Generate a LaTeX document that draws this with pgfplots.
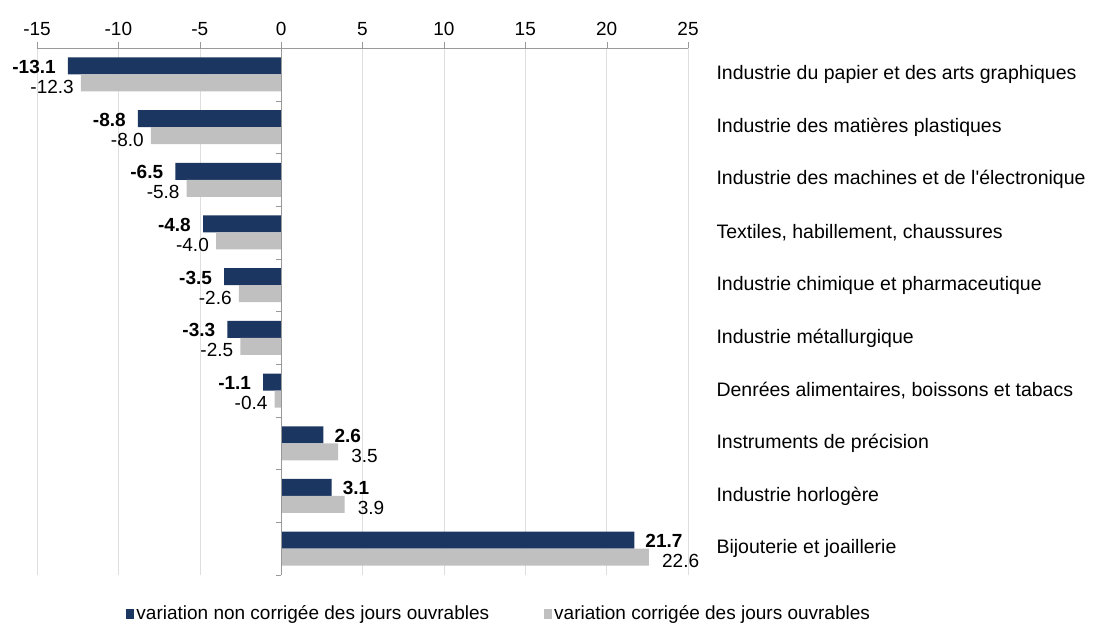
\documentclass[border=0pt]{standalone}
\usepackage{pgfplots}
\pgfplotsset{compat=1.18}
\usepackage{pgfplotstable}
\usepackage{fontspec}
\setmainfont{Liberation Sans}[Ligatures=TeXOff]
\definecolor{navy}{RGB}{27,54,96}
\definecolor{lgray}{RGB}{192,192,192}
\definecolor{gridc}{RGB}{222,222,222}
\pgfplotstableread{
y v
0 -13.1
1 -8.8
2 -6.5
3 -4.8
4 -3.5
5 -3.3
6 -1.1
}\darkneg
\pgfplotstableread{
y v
7 2.6
8 3.1
9 21.7
}\darkpos
\pgfplotstableread{
y v
0 -12.3
1 -8.0
2 -5.8
3 -4.0
4 -2.6
5 -2.5
6 -0.4
}\grayneg
\pgfplotstableread{
y v
7 3.5
8 3.9
9 22.6
}\graypos
\begin{document}
\fontsize{19}{23}\selectfont
\begin{tikzpicture}
\path[use as bounding box] (0,0) rectangle (1097pt,626pt);
\begin{axis}[
  at={(37pt,51pt)}, anchor=south west,
  scale only axis, width=651pt, height=527pt,
  font=\fontsize{19}{23}\selectfont,
  xmin=-15, xmax=25,
  ymin=-0.5, ymax=9.5, y dir=reverse,
  axis x line*=top, axis y line*=right,
  y axis line style={draw=none},
  x axis line style={draw=gray!80, -},
  xtick={-15,-10,...,25},
  xticklabels={-15,-10,-5,0,5,10,15,20,25},
  xtick align=outside,
  xtick style={draw=gray!80},
  major tick length=6pt,
  xmajorgrids, grid style={gridc},
  ytick={0,...,9},
  ytick style={draw=none},
  yticklabels={Industrie du papier et des arts graphiques,Industrie des matières plastiques,Industrie des machines et de l'électronique,{Textiles, habillement, chaussures},Industrie chimique et pharmaceutique,Industrie métallurgique,{Denrées alimentaires, boissons et tabacs},Instruments de précision,Industrie horlogère,Bijouterie et joaillerie},
  yticklabel style={anchor=west, xshift=16pt, font=\fontsize{19.5}{23}\selectfont},
  xbar, bar width=17pt,
  nodes near coords,
  point meta=x,
  nodes near coords style={/pgf/number format/fixed, /pgf/number format/fixed zerofill, /pgf/number format/precision=1, /pgf/number format/assume math mode=true},
  legend style={at={(0.71,-0.074)}, anchor=center, draw=none, fill=none,
    legend columns=2, font=\fontsize{19}{23}\selectfont,
    /tikz/every even column/.append style={column sep=53pt},
    nodes={inner sep=2pt}},
  legend image code/.code={\fill[#1] (0pt,-5pt) rectangle (8pt,5pt);},
  legend cell align=left,
]
\addlegendimage{fill=navy, draw=none}
\addlegendentry{variation non corrigée des jours ouvrables}
\addlegendimage{fill=lgray, draw=none}
\addlegendentry{variation corrigée des jours ouvrables}
\addplot[forget plot, fill=navy, draw=none, bar shift=8.5pt,
  every node near coord/.append style={anchor=east, font=\fontsize{19}{23}\selectfont\bfseries, inner sep=0pt, xshift=-12pt, yshift=-1pt}
] table[x=v, y=y] {\darkneg};
\addplot[forget plot, fill=navy, draw=none, bar shift=8.5pt,
  every node near coord/.append style={anchor=west, font=\fontsize{19}{23}\selectfont\bfseries, inner sep=0pt, xshift=11pt, yshift=-1pt}
] table[x=v, y=y] {\darkpos};
\addplot[forget plot, fill=lgray, draw=none, bar shift=-8.5pt,
  every node near coord/.append style={anchor=east, font=\fontsize{19}{23}\selectfont, inner sep=0pt, xshift=-7pt, yshift=-4pt}
] table[x=v, y=y] {\grayneg};
\addplot[forget plot, fill=lgray, draw=none, bar shift=-8.5pt,
  every node near coord/.append style={anchor=west, font=\fontsize{19}{23}\selectfont, inner sep=0pt, xshift=13pt, yshift=-4pt}
] table[x=v, y=y] {\graypos};
\draw[gray!80] (axis cs:0,-0.5) -- (axis cs:0,9.5);
\pgfplotsinvokeforeach{-0.5,0.5,1.5,2.5,3.5,4.5,5.5,6.5,7.5,8.5,9.5}{
  \draw[gray!80] (axis cs:0,#1) -- ([xshift=-5pt]axis cs:0,#1);
}
\end{axis}
\end{tikzpicture}
\end{document}
